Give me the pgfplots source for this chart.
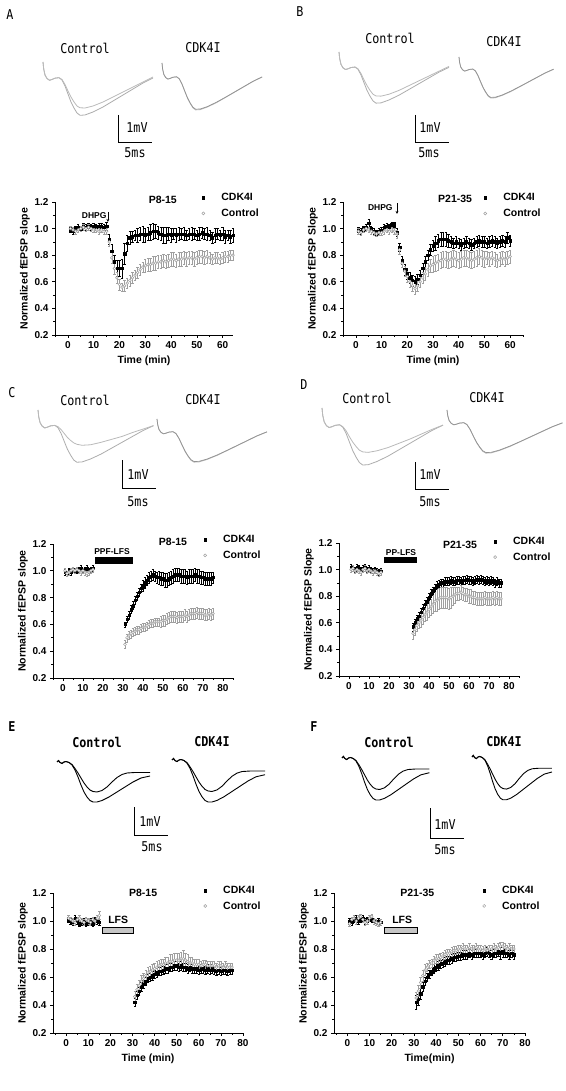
\documentclass[border=0pt]{standalone}
\usepackage{fontspec}
\setmainfont{Liberation Sans}
\newfontfamily\tfont[FakeStretch=0.87]{DejaVu Sans Mono}
\usepackage{pgfplots}
\usepackage{pgfplotstable}
\pgfplotsset{compat=1.18}
\usetikzlibrary{arrows.meta}
\newcommand{\mono}{\tfont\fontsize{13.5}{15}\selectfont}
\newcommand{\monob}{\tfont\bfseries\fontsize{13.5}{15}\selectfont}
\newcommand{\bsmall}{\bfseries\fontsize{8.5}{10}\selectfont}
\newcommand{\bmid}{\bfseries\fontsize{10.5}{12}\selectfont}

% ---------- trace templates (relative pixels, y downwards) ----------
\pgfplotstableread[row sep=\\]{x y\\0 0\\0.7 7\\2 13\\4 16.5\\6.5 18.3\\9 17.5\\12 16.2\\16 15.7\\19 18\\22 24\\25 32\\28 40\\31 46\\34 51\\37 53.3\\42 53\\50 50\\60 45\\70 39\\80 33\\90 27\\100 21\\110 16\\}\Pdeep
\pgfplotstableread[row sep=\\]{x y\\0 0\\0.7 7\\2 13\\4 16.5\\6.5 18.3\\9 17.5\\12 16.2\\16 15.7\\19 17.5\\22 22.5\\25 29\\28 35\\31 40\\34 44\\37 45.8\\42 46\\50 44\\60 40\\70 35\\80 30\\90 25\\100 20\\110 15\\}\PupA
\pgfplotstableread[row sep=\\]{x y\\0 0\\0.7 7\\2 13\\4 16.5\\6.5 18.3\\9 17.5\\12 16.2\\16 15.7\\19 17\\22 20\\25 24\\28 28\\31 31\\34 33.5\\37 35\\42 36\\50 35.5\\60 33\\70 30\\80 27\\90 23\\100 19.5\\110 16\\}\PupC
\pgfplotstableread[row sep=\\]{x y\\0 0\\0.7 7\\2 13\\4 16.5\\6.5 18.3\\9 17.5\\12 16.2\\16 15.7\\19 17.5\\22 21.5\\25 27\\28 32\\31 36\\34 39.5\\37 41\\42 41.5\\50 40\\60 37\\70 33\\80 29\\90 24.5\\100 20\\110 16\\}\PupD
\pgfplotstableread[row sep=\\]{x y\\0 0\\0.7 7\\2 13\\4 16.5\\6.5 18.3\\9 17.5\\12 16.2\\16 15.7\\19 18\\22 24\\25 32\\28 39.5\\31 45.5\\34 50.3\\37 52.5\\42 52.3\\50 49.5\\60 44.5\\70 38.8\\80 32.8\\90 26.8\\100 20.8\\110 15.8\\}\Pcdk
\pgfplotstableread[row sep=\\]{x y\\0 0\\1.5 -1.5\\3 0.5\\5 1.5\\7 0\\9 -0.5\\12 0.5\\15 3\\18 8\\21 15\\24 23\\27 30\\30 35\\33 38.5\\36 40\\40 40\\45 38.5\\52 35\\60 30\\68 25\\76 20\\84 16\\93 14\\}\Qlow
\pgfplotstableread[row sep=\\]{x y\\0 0\\1.5 -1.5\\3 0.5\\5 1.5\\7 0\\9 -0.5\\12 0.5\\15 2.5\\18 6.5\\21 11\\24 16\\27 21\\30 25\\33 28\\36 29.5\\40 30\\45 28.5\\50 25\\55 20\\60 15.5\\65 12.5\\70 11\\78 10.5\\93 10.5\\}\Qup

% ---------- time course data ----------
\pgfplotstableread[row sep=\\]{x y e\\
1 0.99 0.02\\2 0.98 0.02\\3 1.00 0.02\\4 1.01 0.02\\5 1.00 0.02\\6 1.02 0.02\\7 1.01 0.02\\8 1.02 0.02\\9 1.01 0.02\\10 1.02 0.02\\
11 1.01 0.02\\12 1.02 0.02\\13 1.02 0.02\\14 1.01 0.02\\15 1.02 0.03\\16 0.92 0.04\\17 0.83 0.05\\18 0.75 0.05\\19 0.70 0.06\\20 0.70 0.06\\
21 0.70 0.07\\22 0.81 0.08\\23 0.89 0.06\\24 0.93 0.05\\25 0.94 0.04\\26 0.95 0.04\\27 0.95 0.05\\28 0.96 0.05\\29 0.96 0.06\\30 0.95 0.05\\
31 0.96 0.05\\32 0.97 0.06\\33 0.98 0.06\\34 0.98 0.05\\35 0.97 0.05\\36 0.96 0.05\\37 0.95 0.06\\38 0.95 0.06\\39 0.96 0.05\\40 0.95 0.05\\
41 0.96 0.04\\42 0.95 0.05\\43 0.96 0.05\\44 0.96 0.04\\45 0.96 0.05\\46 0.95 0.04\\47 0.96 0.04\\48 0.96 0.05\\49 0.96 0.04\\50 0.95 0.04\\
51 0.96 0.05\\52 0.97 0.04\\53 0.96 0.04\\54 0.96 0.05\\55 0.95 0.04\\56 0.93 0.04\\57 0.95 0.05\\58 0.96 0.04\\59 0.95 0.04\\60 0.96 0.05\\
61 0.94 0.05\\62 0.95 0.04\\63 0.94 0.05\\64 0.95 0.05\\}\Ak
\pgfplotstableread[row sep=\\]{x y e\\
1 1.00 0.02\\2 0.99 0.02\\3 0.98 0.02\\4 0.99 0.02\\5 1.00 0.02\\6 1.01 0.02\\7 1.00 0.02\\8 1.01 0.02\\9 1.00 0.02\\10 0.99 0.02\\
11 0.99 0.02\\12 0.98 0.02\\13 0.99 0.02\\14 0.98 0.02\\15 0.98 0.02\\16 0.90 0.03\\17 0.78 0.04\\18 0.70 0.04\\19 0.63 0.04\\20 0.58 0.04\\
21 0.56 0.03\\22 0.57 0.04\\23 0.59 0.04\\24 0.61 0.04\\25 0.63 0.04\\26 0.65 0.04\\27 0.67 0.04\\28 0.69 0.04\\29 0.71 0.04\\30 0.72 0.05\\
31 0.73 0.05\\32 0.73 0.05\\33 0.74 0.05\\34 0.74 0.05\\35 0.75 0.05\\36 0.75 0.05\\37 0.76 0.05\\38 0.75 0.05\\39 0.76 0.05\\40 0.77 0.05\\
41 0.77 0.05\\42 0.76 0.05\\43 0.77 0.05\\44 0.77 0.05\\45 0.78 0.05\\46 0.77 0.05\\47 0.78 0.05\\48 0.78 0.05\\49 0.77 0.05\\50 0.78 0.05\\
51 0.79 0.05\\52 0.79 0.05\\53 0.78 0.05\\54 0.79 0.05\\55 0.78 0.04\\56 0.77 0.04\\57 0.78 0.04\\58 0.78 0.04\\59 0.77 0.04\\60 0.78 0.04\\
61 0.79 0.04\\62 0.79 0.04\\63 0.80 0.04\\64 0.80 0.04\\}\Ac
\pgfplotstableread[row sep=\\]{x y e\\
1 0.99 0.02\\2 0.98 0.02\\3 1.00 0.02\\4 1.01 0.02\\5 1.04 0.03\\6 1.00 0.02\\7 0.98 0.02\\8 0.97 0.02\\9 0.98 0.02\\10 0.99 0.02\\
11 1.01 0.02\\12 1.02 0.02\\13 1.01 0.02\\14 1.03 0.02\\15 1.03 0.02\\16 0.97 0.03\\17 0.86 0.03\\18 0.76 0.03\\19 0.69 0.04\\20 0.66 0.04\\
21 0.63 0.04\\22 0.61 0.04\\23 0.60 0.04\\24 0.62 0.04\\25 0.65 0.04\\26 0.70 0.04\\27 0.75 0.04\\28 0.80 0.04\\29 0.84 0.04\\30 0.87 0.04\\
31 0.89 0.05\\32 0.91 0.05\\33 0.92 0.05\\34 0.92 0.05\\35 0.92 0.05\\36 0.91 0.05\\37 0.90 0.04\\38 0.89 0.04\\39 0.90 0.04\\40 0.89 0.04\\
41 0.88 0.04\\42 0.89 0.04\\43 0.90 0.04\\44 0.89 0.04\\45 0.88 0.04\\46 0.89 0.04\\47 0.90 0.04\\48 0.91 0.04\\49 0.90 0.04\\50 0.90 0.04\\
51 0.89 0.04\\52 0.90 0.04\\53 0.91 0.04\\54 0.90 0.04\\55 0.89 0.04\\56 0.90 0.04\\57 0.91 0.04\\58 0.90 0.04\\59 0.93 0.04\\60 0.91 0.04\\}\Bk
\pgfplotstableread[row sep=\\]{x y e\\
1 0.98 0.02\\2 0.97 0.02\\3 0.99 0.02\\4 1.00 0.02\\5 0.99 0.02\\6 0.98 0.02\\7 0.97 0.02\\8 0.96 0.02\\9 0.97 0.02\\10 0.97 0.02\\
11 0.98 0.02\\12 0.99 0.02\\13 0.98 0.02\\14 0.99 0.02\\15 0.98 0.02\\16 0.96 0.03\\17 0.84 0.03\\18 0.74 0.03\\19 0.68 0.04\\20 0.64 0.04\\
21 0.60 0.04\\22 0.57 0.04\\23 0.55 0.04\\24 0.57 0.04\\25 0.60 0.04\\26 0.63 0.04\\27 0.66 0.05\\28 0.69 0.05\\29 0.72 0.05\\30 0.73 0.06\\
31 0.74 0.06\\32 0.75 0.06\\33 0.76 0.06\\34 0.77 0.06\\35 0.77 0.06\\36 0.76 0.06\\37 0.77 0.06\\38 0.78 0.06\\39 0.77 0.06\\40 0.76 0.06\\
41 0.77 0.06\\42 0.78 0.06\\43 0.78 0.06\\44 0.77 0.06\\45 0.76 0.06\\46 0.77 0.06\\47 0.78 0.06\\48 0.79 0.06\\49 0.78 0.06\\50 0.77 0.06\\
51 0.78 0.05\\52 0.77 0.05\\53 0.78 0.05\\54 0.77 0.05\\55 0.76 0.05\\56 0.77 0.05\\57 0.78 0.05\\58 0.77 0.05\\59 0.78 0.05\\60 0.79 0.05\\}\Bc
\pgfplotstableread[row sep=\\]{x y e\\
1 0.99 0.02\\2 0.98 0.02\\3 1.00 0.02\\4 0.99 0.02\\5 1.01 0.02\\6 1.00 0.02\\7 1.00 0.02\\8 1.01 0.02\\9 1.02 0.02\\10 1.00 0.02\\
11 1.01 0.02\\12 1.02 0.02\\13 1.00 0.02\\14 1.01 0.02\\15 1.02 0.02\\
31 0.60 0.02\\32 0.64 0.02\\33 0.67 0.03\\34 0.71 0.03\\35 0.74 0.03\\36 0.78 0.03\\37 0.81 0.03\\38 0.84 0.03\\39 0.87 0.03\\40 0.89 0.04\\
41 0.91 0.04\\42 0.93 0.04\\43 0.95 0.04\\44 0.96 0.04\\45 0.97 0.04\\46 0.96 0.04\\47 0.95 0.04\\48 0.95 0.05\\49 0.94 0.05\\50 0.94 0.05\\
51 0.93 0.05\\52 0.93 0.05\\53 0.94 0.05\\54 0.95 0.05\\55 0.96 0.05\\56 0.97 0.05\\57 0.97 0.05\\58 0.97 0.05\\59 0.96 0.05\\60 0.96 0.05\\
61 0.96 0.05\\62 0.95 0.05\\63 0.96 0.05\\64 0.96 0.05\\65 0.96 0.05\\66 0.97 0.05\\67 0.96 0.05\\68 0.96 0.05\\69 0.95 0.05\\70 0.95 0.05\\
71 0.94 0.05\\72 0.94 0.05\\73 0.94 0.05\\74 0.94 0.05\\75 0.95 0.04\\}\Ck
\pgfplotstableread[row sep=\\]{x y e\\
1 1.00 0.02\\2 0.98 0.02\\3 0.99 0.02\\4 1.00 0.02\\5 1.01 0.02\\6 1.00 0.02\\7 1.01 0.02\\8 1.00 0.02\\9 0.99 0.02\\10 1.00 0.02\\
11 0.99 0.02\\12 0.98 0.02\\13 0.99 0.02\\14 1.00 0.02\\15 1.01 0.02\\
31 0.45 0.03\\32 0.50 0.03\\33 0.52 0.03\\34 0.53 0.03\\35 0.54 0.03\\36 0.55 0.03\\37 0.56 0.03\\38 0.56 0.03\\39 0.57 0.03\\40 0.58 0.03\\
41 0.58 0.03\\42 0.59 0.03\\43 0.60 0.03\\44 0.61 0.03\\45 0.61 0.03\\46 0.62 0.03\\47 0.62 0.03\\48 0.62 0.03\\49 0.62 0.04\\50 0.63 0.04\\
51 0.63 0.04\\52 0.64 0.04\\53 0.65 0.04\\54 0.66 0.04\\55 0.66 0.04\\56 0.66 0.04\\57 0.65 0.04\\58 0.66 0.04\\59 0.66 0.04\\60 0.66 0.04\\
61 0.67 0.04\\62 0.66 0.04\\63 0.67 0.04\\64 0.68 0.04\\65 0.68 0.04\\66 0.68 0.04\\67 0.69 0.04\\68 0.68 0.04\\69 0.68 0.04\\70 0.68 0.04\\
71 0.67 0.04\\72 0.67 0.04\\73 0.68 0.04\\74 0.67 0.04\\75 0.68 0.04\\}\Cc
\pgfplotstableread[row sep=\\]{x y e\\
1 1.02 0.02\\2 1.01 0.02\\3 1.00 0.02\\4 1.02 0.02\\5 1.01 0.02\\6 1.00 0.02\\7 1.01 0.02\\8 1.02 0.02\\9 1.00 0.02\\10 1.01 0.02\\
11 1.00 0.02\\12 0.99 0.02\\13 1.00 0.02\\14 0.99 0.02\\15 0.98 0.02\\16 0.99 0.02\\
32 0.57 0.03\\33 0.60 0.03\\34 0.63 0.03\\35 0.65 0.03\\36 0.68 0.03\\37 0.71 0.03\\38 0.74 0.03\\39 0.76 0.03\\40 0.79 0.03\\
41 0.82 0.03\\42 0.84 0.03\\43 0.86 0.03\\44 0.88 0.03\\45 0.89 0.03\\46 0.90 0.03\\47 0.90 0.03\\48 0.91 0.03\\49 0.91 0.03\\50 0.91 0.03\\
51 0.92 0.03\\52 0.91 0.03\\53 0.91 0.03\\54 0.92 0.03\\55 0.92 0.03\\56 0.91 0.03\\57 0.92 0.03\\58 0.92 0.03\\59 0.93 0.03\\60 0.92 0.03\\
61 0.92 0.03\\62 0.91 0.03\\63 0.92 0.03\\64 0.93 0.03\\65 0.92 0.03\\66 0.93 0.03\\67 0.92 0.03\\68 0.91 0.03\\69 0.92 0.03\\70 0.91 0.03\\
71 0.92 0.03\\72 0.91 0.03\\73 0.90 0.03\\74 0.91 0.03\\75 0.90 0.03\\76 0.90 0.03\\}\Dk
\pgfplotstableread[row sep=\\]{x y e\\
1 1.00 0.02\\2 1.01 0.02\\3 0.99 0.02\\4 1.00 0.02\\5 0.99 0.02\\6 0.98 0.02\\7 1.00 0.02\\8 1.01 0.02\\9 0.99 0.02\\10 1.00 0.02\\
11 0.99 0.02\\12 0.98 0.02\\13 0.99 0.02\\14 0.98 0.02\\15 0.97 0.02\\16 0.98 0.02\\
32 0.52 0.04\\33 0.55 0.04\\34 0.58 0.04\\35 0.60 0.04\\36 0.62 0.05\\37 0.64 0.05\\38 0.66 0.05\\39 0.68 0.06\\40 0.70 0.06\\
41 0.72 0.06\\42 0.74 0.07\\43 0.76 0.07\\44 0.77 0.08\\45 0.78 0.08\\46 0.79 0.08\\47 0.79 0.08\\48 0.79 0.08\\49 0.79 0.08\\50 0.78 0.08\\
51 0.79 0.08\\52 0.80 0.07\\53 0.81 0.06\\54 0.82 0.05\\55 0.82 0.05\\56 0.83 0.05\\57 0.82 0.05\\58 0.81 0.05\\59 0.81 0.05\\60 0.80 0.05\\
61 0.80 0.05\\62 0.79 0.05\\63 0.79 0.05\\64 0.78 0.05\\65 0.78 0.05\\66 0.78 0.05\\67 0.78 0.05\\68 0.79 0.05\\69 0.78 0.05\\70 0.78 0.05\\
71 0.78 0.05\\72 0.79 0.05\\73 0.78 0.05\\74 0.79 0.05\\75 0.78 0.05\\76 0.78 0.05\\}\Dc
\pgfplotstableread[row sep=\\]{x y e\\
1 1.01 0.02\\2 1.00 0.02\\3 0.99 0.02\\4 1.02 0.02\\5 1.00 0.02\\6 0.98 0.02\\7 0.99 0.02\\8 1.00 0.02\\9 0.98 0.02\\10 0.99 0.02\\
11 1.00 0.02\\12 0.98 0.02\\13 1.01 0.02\\14 1.00 0.02\\15 0.99 0.02\\
31 0.42 0.03\\32 0.47 0.03\\33 0.50 0.03\\34 0.53 0.03\\35 0.55 0.03\\36 0.57 0.03\\37 0.59 0.03\\38 0.60 0.03\\39 0.61 0.03\\40 0.62 0.03\\
41 0.63 0.03\\42 0.64 0.03\\43 0.64 0.03\\44 0.65 0.03\\45 0.66 0.03\\46 0.66 0.03\\47 0.67 0.03\\48 0.67 0.03\\49 0.68 0.03\\50 0.68 0.03\\
51 0.67 0.03\\52 0.68 0.03\\53 0.67 0.03\\54 0.67 0.03\\55 0.66 0.03\\56 0.67 0.03\\57 0.66 0.03\\58 0.66 0.03\\59 0.66 0.03\\60 0.65 0.03\\
61 0.66 0.03\\62 0.66 0.03\\63 0.65 0.03\\64 0.66 0.03\\65 0.65 0.03\\66 0.66 0.03\\67 0.65 0.03\\68 0.64 0.03\\69 0.65 0.03\\70 0.64 0.03\\
71 0.65 0.03\\72 0.65 0.03\\73 0.64 0.03\\74 0.65 0.03\\75 0.65 0.03\\}\Ek
\pgfplotstableread[row sep=\\]{x y e\\
1 1.02 0.02\\2 1.01 0.02\\3 1.00 0.02\\4 0.99 0.02\\5 1.01 0.02\\6 1.02 0.02\\7 1.00 0.02\\8 0.99 0.02\\9 1.01 0.02\\10 1.00 0.02\\
11 0.99 0.02\\12 1.01 0.02\\13 1.00 0.02\\14 1.02 0.02\\15 1.04 0.03\\
31 0.46 0.04\\32 0.51 0.04\\33 0.54 0.04\\34 0.57 0.04\\35 0.59 0.04\\36 0.61 0.04\\37 0.63 0.04\\38 0.64 0.04\\39 0.65 0.04\\40 0.66 0.04\\
41 0.67 0.04\\42 0.68 0.04\\43 0.69 0.04\\44 0.69 0.04\\45 0.70 0.04\\46 0.70 0.04\\47 0.71 0.05\\48 0.71 0.05\\49 0.72 0.05\\50 0.72 0.05\\
51 0.72 0.05\\52 0.73 0.05\\53 0.73 0.06\\54 0.72 0.05\\55 0.71 0.05\\56 0.70 0.04\\57 0.70 0.04\\58 0.69 0.04\\59 0.69 0.04\\60 0.69 0.04\\
61 0.68 0.03\\62 0.69 0.03\\63 0.69 0.03\\64 0.68 0.03\\65 0.68 0.03\\66 0.68 0.03\\67 0.68 0.03\\68 0.67 0.03\\69 0.68 0.03\\70 0.68 0.03\\
71 0.67 0.03\\72 0.68 0.03\\73 0.67 0.03\\74 0.67 0.03\\75 0.67 0.03\\}\Ec
\pgfplotstableread[row sep=\\]{x y e\\
1 1.00 0.02\\2 0.99 0.02\\3 1.01 0.02\\4 1.02 0.02\\5 1.00 0.02\\6 1.01 0.02\\7 1.02 0.02\\8 1.00 0.02\\9 1.01 0.02\\10 1.02 0.02\\
11 1.01 0.02\\12 1.00 0.02\\13 0.99 0.02\\14 1.00 0.02\\15 0.99 0.02\\
31 0.42 0.05\\32 0.44 0.04\\33 0.48 0.04\\34 0.53 0.03\\35 0.57 0.03\\36 0.60 0.03\\37 0.62 0.03\\38 0.64 0.03\\39 0.66 0.03\\40 0.67 0.03\\
41 0.68 0.03\\42 0.69 0.03\\43 0.70 0.03\\44 0.71 0.03\\45 0.72 0.03\\46 0.72 0.03\\47 0.73 0.03\\48 0.74 0.03\\49 0.74 0.03\\50 0.75 0.03\\
51 0.75 0.03\\52 0.76 0.03\\53 0.76 0.03\\54 0.76 0.03\\55 0.77 0.03\\56 0.76 0.03\\57 0.77 0.03\\58 0.77 0.03\\59 0.77 0.03\\60 0.77 0.03\\
61 0.76 0.03\\62 0.77 0.03\\63 0.78 0.03\\64 0.77 0.03\\65 0.76 0.03\\66 0.77 0.03\\67 0.77 0.03\\68 0.78 0.03\\69 0.77 0.04\\70 0.78 0.04\\
71 0.77 0.03\\72 0.77 0.03\\73 0.76 0.03\\74 0.77 0.03\\75 0.76 0.03\\}\Fk
\pgfplotstableread[row sep=\\]{x y e\\
1 0.98 0.02\\2 1.01 0.02\\3 1.02 0.02\\4 1.00 0.02\\5 1.02 0.02\\6 1.03 0.02\\7 1.01 0.02\\8 0.99 0.02\\9 1.00 0.02\\10 1.02 0.02\\
11 1.03 0.02\\12 1.00 0.02\\13 0.99 0.02\\14 0.98 0.02\\15 0.99 0.02\\
31 0.45 0.04\\32 0.50 0.04\\33 0.56 0.04\\34 0.61 0.04\\35 0.65 0.04\\36 0.67 0.03\\37 0.69 0.03\\38 0.70 0.03\\39 0.72 0.03\\40 0.73 0.03\\
41 0.73 0.03\\42 0.74 0.03\\43 0.75 0.03\\44 0.76 0.03\\45 0.77 0.03\\46 0.77 0.03\\47 0.78 0.03\\48 0.79 0.03\\49 0.79 0.03\\50 0.80 0.03\\
51 0.80 0.03\\52 0.81 0.03\\53 0.80 0.03\\54 0.80 0.03\\55 0.81 0.03\\56 0.80 0.03\\57 0.80 0.03\\58 0.81 0.03\\59 0.80 0.03\\60 0.80 0.03\\
61 0.79 0.03\\62 0.80 0.03\\63 0.79 0.03\\64 0.80 0.03\\65 0.80 0.03\\66 0.81 0.03\\67 0.80 0.03\\68 0.81 0.03\\69 0.82 0.03\\70 0.82 0.03\\
71 0.81 0.03\\72 0.80 0.03\\73 0.81 0.03\\74 0.80 0.03\\75 0.80 0.03\\}\Fc

\pgfplotsset{
 panel/.style={
  scale only axis, anchor=south west, clip=false,
  axis lines=left, axis line style={-, line width=0.6pt},
  ymin=0.2, ymax=1.2, ytick={0.2,0.4,0.6,0.8,1.0,1.2}, minor y tick num=1,
  xtick distance=10, minor x tick num=1,
  tick align=outside, major tick length=3pt, minor tick length=1.8pt,
  every tick/.append style={black, line width=0.6pt},
  tick label style={font=\bfseries\fontsize{10}{11}\selectfont},
  /pgf/number format/assume math mode=true,
  yticklabel style={/pgf/number format/.cd,fixed,fixed zerofill,precision=1},
  label style={font=\bmid},
  ylabel style={yshift=-2pt},
  legend style={draw=none, fill=none, font=\bmid, anchor=north west, inner sep=0pt, row sep=2.5pt},
  legend cell align=left,
 },
 kdk/.style={only marks, mark=square*, mark size=1.2pt, black,
  legend image code/.code={\path[draw=none,fill=none] (0pt,0pt) (20pt,0pt);
    \draw[black, only marks, mark=square*, mark size=1.3pt] plot coordinates {(4pt,0pt)};},
  error bars/.cd, y dir=both, y explicit, error bar style={line width=0.35pt, black},
  error mark options={rotate=90, mark size=1.2pt, line width=0.35pt, black}},
 ctl/.style={only marks, mark=*, mark size=1.4pt, color=gray!75, mark options={fill=white, line width=0.5pt},
  legend image code/.code={\path[draw=none,fill=none] (0pt,0pt) (20pt,0pt);
    \draw[gray!75, only marks, mark=*, mark size=1.5pt, mark options={fill=white, line width=0.5pt}] plot coordinates {(4pt,0pt)};},
  error bars/.cd, y dir=both, y explicit, error bar style={line width=0.35pt, gray!75},
  error mark options={rotate=90, mark size=1.2pt, line width=0.35pt, gray!75}},
 tr/.style={hide axis, scale only axis, clip=false, anchor=north west, xmin=0, xmax=120, ymin=0, ymax=60, y dir=reverse},
}

\begin{document}
\begin{tikzpicture}
\useasboundingbox (0,0) rectangle (565pt,1091pt);

% ---------------- canvas: labels and scale bars ----------------
\begin{axis}[hide axis, scale only axis, clip=false, anchor=south west, at={(0pt,0pt)},
  width=565pt, height=1091pt, xmin=0, xmax=565, ymin=0, ymax=1091, y dir=reverse]
\addplot[black, line width=0.9pt] coordinates {(118,115) (118,142) (152,142)};
\addplot[black, line width=0.9pt] coordinates {(415,115) (415,142) (449,142)};
\addplot[black, line width=0.9pt] coordinates {(122,460) (122,488) (156,488)};
\addplot[black, line width=0.9pt] coordinates {(415,462) (415,489) (449,489)};
\addplot[black, line width=0.9pt] coordinates {(134,807) (134,835) (168,835)};
\addplot[black, line width=0.9pt] coordinates {(430,808) (430,838) (464,838)};
\node[font=\mono] at (10,15) {A};
\node[font=\mono] at (300,12) {B};
\node[font=\mono] at (12,393) {C};
\node[font=\mono] at (304,385) {D};
\node[font=\monob] at (12,727) {E};
\node[font=\monob] at (314,727) {F};
\node[font=\mono] at (85,48) {Control};
\node[font=\mono] at (203,48) {CDK4I};
\node[font=\mono] at (390,38) {Control};
\node[font=\mono] at (504,42) {CDK4I};
\node[font=\mono] at (85,400) {Control};
\node[font=\mono] at (203,400) {CDK4I};
\node[font=\mono] at (367,398) {Control};
\node[font=\mono] at (487,398) {CDK4I};
\node[font=\monob] at (97,742) {Control};
\node[font=\monob] at (212,742) {CDK4I};
\node[font=\monob] at (389,742) {Control};
\node[font=\monob] at (504,742) {CDK4I};
\node[font=\mono] at (137,128) {1mV};
\node[font=\mono] at (135,153) {5ms};
\node[font=\mono] at (430,128) {1mV};
\node[font=\mono] at (429,153) {5ms};
\node[font=\mono] at (138,475) {1mV};
\node[font=\mono] at (138,502) {5ms};
\node[font=\mono] at (430,475) {1mV};
\node[font=\mono] at (430,502) {5ms};
\node[font=\mono] at (150,822) {1mV};
\node[font=\mono] at (152,847) {5ms};
\node[font=\mono] at (445,825) {1mV};
\node[font=\mono] at (445,850) {5ms};
\end{axis}

% ---------------- traces ----------------
\begin{axis}[tr, at={(43pt,1029pt)}, width=120pt, height=60pt]
\addplot[color=gray!65, line width=0.8pt] table {\Pdeep};
\addplot[color=gray!55, line width=0.8pt] table {\PupA};
\end{axis}
\begin{axis}[tr, at={(162pt,1028pt)}, width=109.2pt, height=52.8pt]
\addplot[color=gray!55, line width=0.8pt] table {\Pdeep};
\addplot[color=gray!85, line width=0.7pt] table {\Pcdk};
\end{axis}
\begin{axis}[tr, at={(339pt,1039pt)}, width=120pt, height=57.6pt]
\addplot[color=gray!65, line width=0.8pt] table {\Pdeep};
\addplot[color=gray!55, line width=0.8pt] table {\PupA};
\end{axis}
\begin{axis}[tr, at={(459pt,1034pt)}, width=103.2pt, height=46.2pt]
\addplot[color=gray!55, line width=0.8pt] table {\Pdeep};
\addplot[color=gray!85, line width=0.7pt] table {\Pcdk};
\end{axis}
\begin{axis}[tr, at={(38pt,681pt)}, width=126pt, height=58.8pt]
\addplot[color=gray!65, line width=0.8pt] table {\Pdeep};
\addplot[color=gray!55, line width=0.8pt] table {\PupC};
\end{axis}
\begin{axis}[tr, at={(157pt,672pt)}, width=120pt, height=48.6pt]
\addplot[color=gray!55, line width=0.8pt] table {\Pdeep};
\addplot[color=gray!85, line width=0.7pt] table {\Pcdk};
\end{axis}
\begin{axis}[tr, at={(322pt,683pt)}, width=132pt, height=64.2pt]
\addplot[color=gray!65, line width=0.8pt] table {\Pdeep};
\addplot[color=gray!55, line width=0.8pt] table {\PupD};
\end{axis}
\begin{axis}[tr, at={(447pt,681pt)}, width=126pt, height=48.6pt]
\addplot[color=gray!55, line width=0.8pt] table {\Pdeep};
\addplot[color=gray!85, line width=0.7pt] table {\Pcdk};
\end{axis}
\begin{axis}[tr, at={(57pt,329pt)}, width=120pt, height=60pt]
\addplot[black, line width=0.9pt] table {\Qlow};
\addplot[black, line width=0.9pt] table {\Qup};
\end{axis}
\begin{axis}[tr, at={(172pt,331pt)}, width=120pt, height=63pt]
\addplot[black, line width=0.9pt] table {\Qlow};
\addplot[black, line width=0.9pt] table {\Qup};
\end{axis}
\begin{axis}[tr, at={(342pt,333pt)}, width=112.8pt, height=63pt]
\addplot[black, line width=0.9pt] table {\Qlow};
\addplot[black, line width=0.9pt] table {\Qup};
\end{axis}
\begin{axis}[tr, at={(472pt,334pt)}, width=103.2pt, height=64.2pt]
\addplot[black, line width=0.9pt] table {\Qlow};
\addplot[black, line width=0.9pt] table {\Qup};
\end{axis}

% ---------------- A ----------------
\begin{axis}[panel, at={(55pt,756pt)}, width=178pt, height=133pt, xmin=-5, xmax=64,
  xlabel={Time (min)}, ylabel={Normalized fEPSP slope}, legend style={at={(0.81,1.08)}}]
\addplot[kdk] table[x=x,y=y,y error=e] {\Ak}; \addlegendentry{CDK4I}
\addplot[ctl] table[x=x,y=y,y error=e] {\Ac}; \addlegendentry{Control}
\node[font=\bmid] at (axis cs:36.8,1.215) {P8-15};
\node[font=\bsmall] at (axis cs:10.2,1.10) {DHPG};
\draw[-{Stealth[length=3pt,width=3pt]}, line width=0.6pt] (axis cs:15.5,1.125) -- (axis cs:15.5,1.05);
\end{axis}

% ---------------- B ----------------
\begin{axis}[panel, at={(343pt,756pt)}, width=180pt, height=133pt, xmin=-5, xmax=65,
  xlabel={Time (min)}, ylabel={Normalized fEPSP Slope}, legend style={at={(0.767,1.08)}}]
\addplot[kdk] table[x=x,y=y,y error=e] {\Bk}; \addlegendentry{CDK4I}
\addplot[ctl] table[x=x,y=y,y error=e] {\Bc}; \addlegendentry{Control}
\node[font=\bmid] at (axis cs:38.6,1.22) {P21-35};
\node[font=\bsmall] at (axis cs:9.5,1.155) {DHPG};
\draw[-{Stealth[length=3pt,width=3pt]}, line width=0.6pt] (axis cs:16,1.19) -- (axis cs:16,1.11);
\end{axis}

% ---------------- C ----------------
\begin{axis}[panel, at={(53pt,413pt)}, width=180pt, height=134pt, xmin=-5, xmax=85,
  ylabel={Normalized fEPSP slope}, legend style={at={(0.822,1.08)}}]
\addplot[kdk] table[x=x,y=y,y error=e] {\Ck}; \addlegendentry{CDK4I}
\addplot[ctl] table[x=x,y=y,y error=e] {\Cc}; \addlegendentry{Control}
\addplot[fill=black, draw=black, forget plot] coordinates {(16,1.06) (34.5,1.06) (34.5,1.10) (16,1.10)} -- cycle;
\node[font=\bmid] at (axis cs:55,1.215) {P8-15};
\node[font=\bsmall] at (axis cs:24.5,1.14) {PPF-LFS};
\end{axis}

% ---------------- D ----------------
\begin{axis}[panel, at={(339pt,415pt)}, width=180pt, height=133pt, xmin=-5, xmax=85,
  ylabel={Normalized fEPSP Slope}, legend style={at={(0.844,1.06)}}]
\addplot[kdk] table[x=x,y=y,y error=e] {\Dk}; \addlegendentry{CDK4I}
\addplot[ctl] table[x=x,y=y,y error=e] {\Dc}; \addlegendentry{Control}
\addplot[fill=black, draw=black, forget plot] coordinates {(17.5,1.057) (33.5,1.057) (33.5,1.095) (17.5,1.095)} -- cycle;
\node[font=\bmid] at (axis cs:55.5,1.185) {P21-35};
\node[font=\bsmall] at (axis cs:26,1.13) {PP-LFS};
\end{axis}

% ---------------- E ----------------
\begin{axis}[panel, at={(53pt,58pt)}, width=190pt, height=140pt, xmin=-6, xmax=80,
  xlabel={Time (min)}, ylabel={Normalized fEPSP slope}, legend style={at={(0.779,1.065)}}]
\addplot[kdk] table[x=x,y=y,y error=e] {\Ek}; \addlegendentry{CDK4I}
\addplot[ctl] table[x=x,y=y,y error=e] {\Ec}; \addlegendentry{Control}
\addplot[fill=gray!45, draw=black, line width=0.5pt, forget plot] coordinates {(16.2,0.915) (30.2,0.915) (30.2,0.955) (16.2,0.955)} -- cycle;
\node[font=\bmid] at (axis cs:34.8,1.20) {P8-15};
\node[font=\bmid] at (axis cs:23.5,1.007) {LFS};
\end{axis}

% ---------------- F ----------------
\begin{axis}[panel, at={(334pt,58pt)}, width=191pt, height=140pt, xmin=-6, xmax=80,
  xlabel={Time(min)}, ylabel={Normalized fEPSP slope}, legend style={at={(0.764,1.065)}}]
\addplot[kdk] table[x=x,y=y,y error=e] {\Fk}; \addlegendentry{CDK4I}
\addplot[ctl] table[x=x,y=y,y error=e] {\Fc}; \addlegendentry{Control}
\addplot[fill=gray!45, draw=black, line width=0.5pt, forget plot] coordinates {(16.7,0.915) (31.5,0.915) (31.5,0.953) (16.7,0.953)} -- cycle;
\node[font=\bmid] at (axis cs:31.5,1.20) {P21-35};
\node[font=\bmid] at (axis cs:24.7,1.007) {LFS};
\end{axis}
\end{tikzpicture}
\end{document}
